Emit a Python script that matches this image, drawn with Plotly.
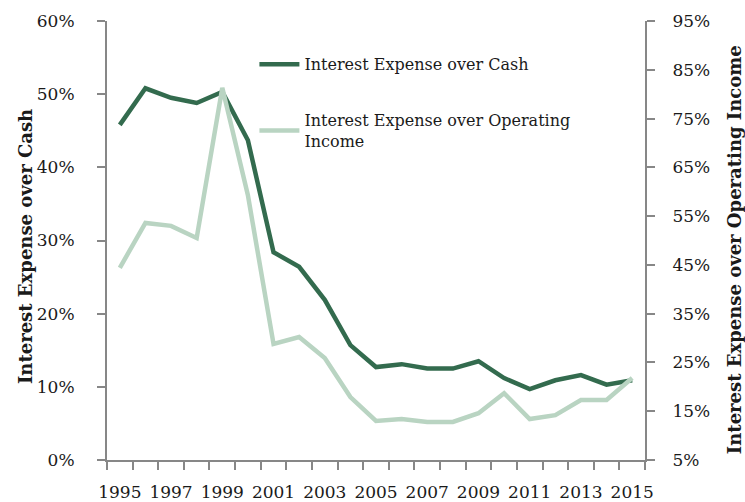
import plotly.graph_objects as go

years = list(range(1995, 2016))
cash_ratio = [45.8, 50.8, 49.5, 48.8, 50.3, 43.7, 28.4, 26.4, 21.9, 15.7, 12.7, 13.1, 12.5, 12.5, 13.5, 11.2, 9.7, 10.9, 11.6, 10.3, 10.9]
op_income_ratio = [44.4, 53.6, 53.0, 50.5, 81.3, 59.3, 28.8, 30.2, 25.9, 17.9, 13.0, 13.4, 12.8, 12.8, 14.6, 18.7, 13.4, 14.2, 17.3, 17.3, 21.8]
left_ticks = [0, 10, 20, 30, 40, 50, 60]
right_ticks = [5, 15, 25, 35, 45, 55, 65, 75, 85, 95]
x_labels = list(range(1995, 2016, 2))

FONT = "DejaVu Serif, serif"
DARK = "#336b4e"
LIGHT = "#b9d4c2"
AXIS = "#878787"
TXT = "#1a1a1a"

fig = go.Figure()
fig.add_trace(go.Scatter(x=years, y=[v / 100 for v in cash_ratio], mode="lines",
                         name="Interest Expense over Cash", legendgroup="a",
                         line=dict(color=DARK, width=4.5), yaxis="y"))
fig.add_trace(go.Scatter(x=years, y=[v / 100 for v in op_income_ratio], mode="lines",
                         name="Interest Expense over Operating<br>Income", legendgroup="b",
                         line=dict(color=LIGHT, width=4.5), yaxis="y2"))

fig.update_layout(
    width=745, height=502,
    margin=dict(l=107, r=100, t=21, b=42),
    paper_bgcolor="white", plot_bgcolor="white",
    font=dict(family=FONT, size=17, color=TXT),
    showlegend=True,
    legend=dict(x=0.274, y=0.94, xanchor="left", yanchor="top",
                bgcolor="rgba(0,0,0,0)", font=dict(size=16, family=FONT, color=TXT),
                tracegroupgap=32, itemwidth=40),
    xaxis=dict(range=[1994.5, 2015.5], tickvals=x_labels, ticktext=[str(v) for v in x_labels],
               ticks="", showgrid=False, zeroline=False, automargin=False,
               showline=True, linecolor=AXIS, linewidth=2,
               tickfont=dict(size=17, family=FONT, color=TXT), ticklabelstandoff=16,
               minor=dict(tick0=1994.5, dtick=1, ticks="outside", ticklen=8, tickcolor=AXIS, tickwidth=1.5)),
    yaxis=dict(range=[0, 0.6], tickvals=[v / 100 for v in left_ticks],
               ticktext=[f"{v}%" for v in left_ticks],
               ticks="outside", ticklen=8, tickcolor=AXIS, tickwidth=1.5,
               showgrid=False, zeroline=False, showline=True, linecolor=AXIS, linewidth=2,
               automargin=False, ticklabelstandoff=19,
               tickfont=dict(size=17, family=FONT, color=TXT)),
    yaxis2=dict(range=[0.05, 0.95], tickvals=[v / 100 for v in right_ticks],
                ticktext=[f"{v}%" for v in right_ticks],
                overlaying="y", side="right",
                ticks="outside", ticklen=8, tickcolor=AXIS, tickwidth=1.5,
                showgrid=False, zeroline=False, showline=True, linecolor=AXIS, linewidth=2,
                automargin=False, ticklabelstandoff=14,
                tickfont=dict(size=17, family=FONT, color=TXT)),
    annotations=[
        dict(text="<b>Interest Expense over Cash</b>", xref="paper", yref="paper",
             x=(25 - 107) / 538, y=0.485, xanchor="center", yanchor="middle",
             textangle=-90, showarrow=False, font=dict(size=18, family=FONT, color=TXT)),
        dict(text="<b>Interest Expense over Operating Income</b>", xref="paper", yref="paper",
             x=(734 - 107) / 538, y=0.478, xanchor="center", yanchor="middle",
             textangle=-90, showarrow=False, font=dict(size=18, family=FONT, color=TXT)),
    ],
)

fig.write_html("out.html", config={"displayModeBar": False},
               post_script="document.body.style.margin='0px';")
